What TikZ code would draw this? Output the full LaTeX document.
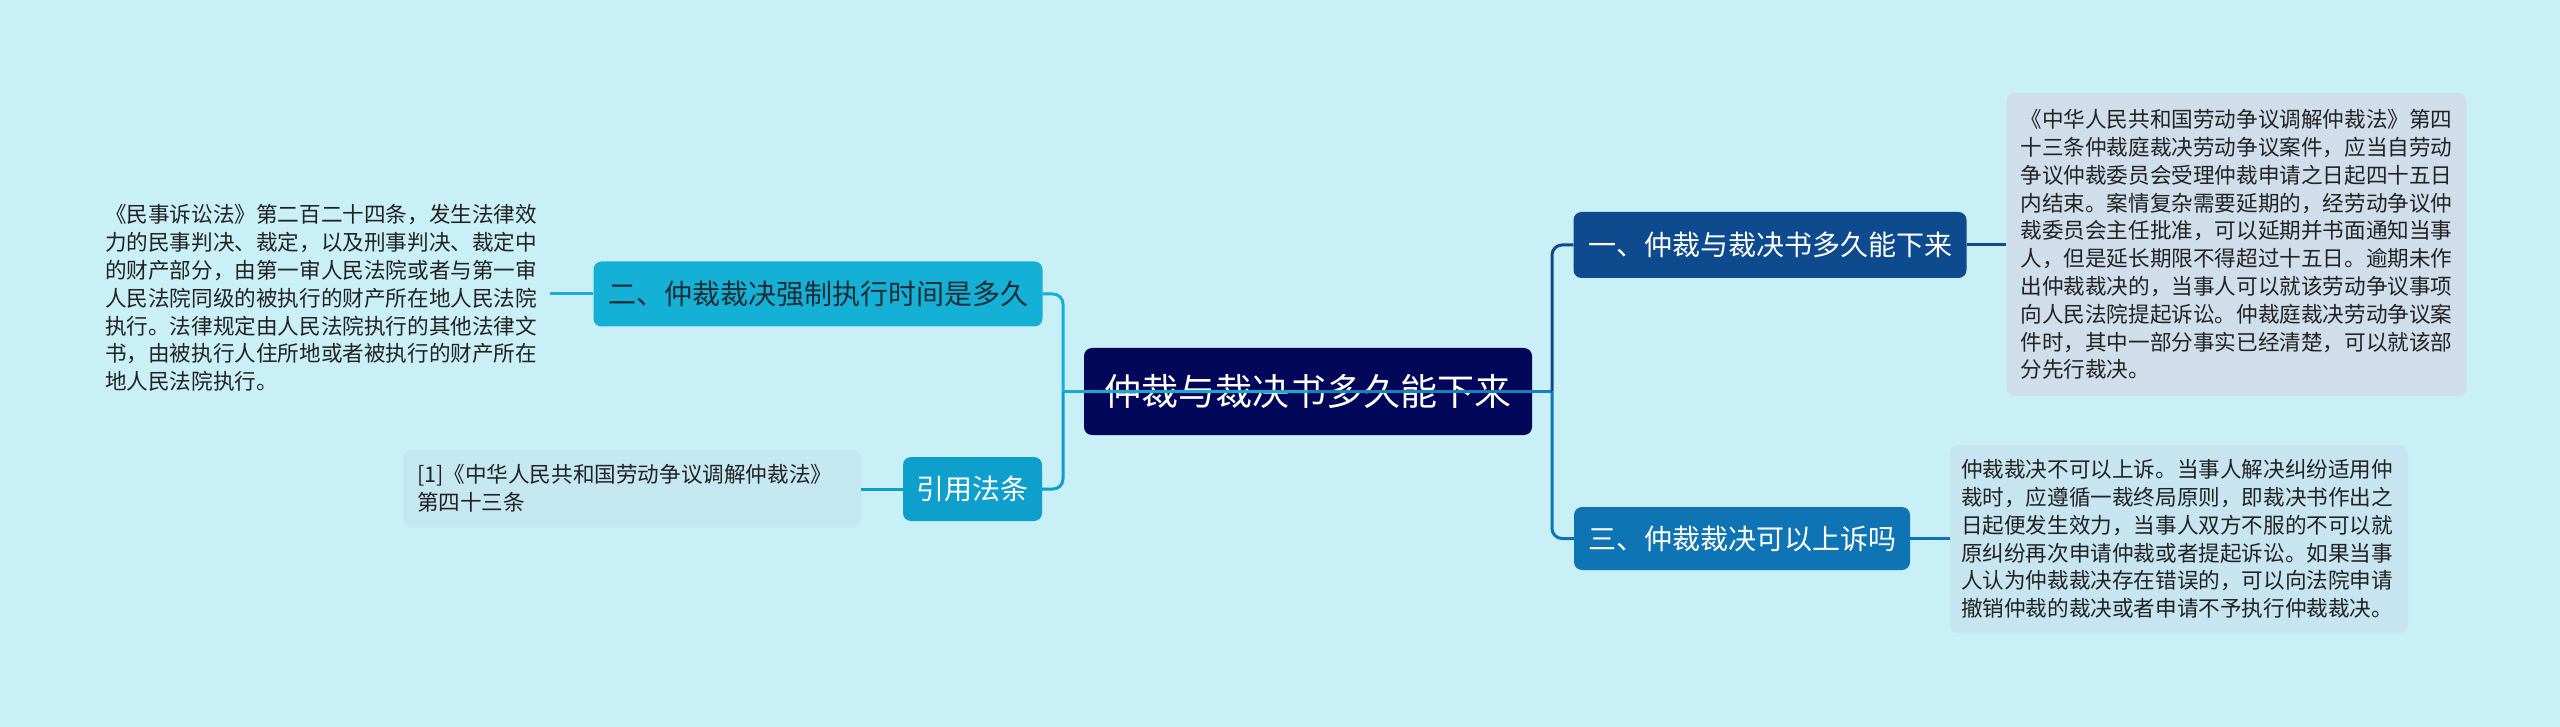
\documentclass[tikz,border=0pt]{standalone}
\usepackage{fontspec}
\setmainfont{Noto Sans CJK SC}
\definecolor{bg}{HTML}{C9EFF7}
\definecolor{cnavy}{HTML}{03075A}
\definecolor{cb1}{HTML}{0D4A8E}
\definecolor{cb3}{HTML}{0E74B3}
\definecolor{cb2}{HTML}{14B0D5}
\definecolor{cref}{HTML}{0F9FCC}
\definecolor{t1fill}{HTML}{D0DDEB}
\definecolor{t3fill}{HTML}{C6E5F1}
\definecolor{reffill}{HTML}{C4E7F2}
\definecolor{darktxt}{HTML}{1F2D36}
\definecolor{bodytxt}{HTML}{222222}
\definecolor{lcyan}{HTML}{19A8CF}
\definecolor{lmid}{HTML}{1580BA}
\begin{document}
\begin{tikzpicture}[x=1pt,y=-1pt,
  box/.style={rounded corners=8pt, inner sep=0pt, align=center},
  bigfont/.style={font=\fontsize{37pt}{44pt}\selectfont},
  midfont/.style={font=\fontsize{28pt}{34pt}\selectfont},
  txtbox/.style={rounded corners=8pt, inner xsep=14pt, inner ysep=0pt, align=left,
     text=bodytxt, font=\fontsize{21.6pt}{27.8pt}\selectfont},
  conn/.style={line width=3pt},
]
\fill[bg] (0,0) rectangle (2560,727);
\useasboundingbox (0,0) rectangle (2560,727);

% central
\node[box, bigfont, fill=cnavy, text=white, minimum width=448pt, minimum height=87pt] (c) at (1308,391.5) {仲裁与裁决书多久能下来};

% branches
\node[box, midfont, fill=cb1, text=white, minimum width=393pt, minimum height=66pt] (b1) at (1770,245) {一、仲裁与裁决书多久能下来};
\node[box, midfont, fill=cb3, text=white, minimum width=336pt, minimum height=63pt] (b3) at (1742,538.5) {三、仲裁裁决可以上诉吗};
\node[box, midfont, fill=cb2, text=darktxt, minimum width=449pt, minimum height=65pt] (b2) at (818,294) {二、仲裁裁决强制执行时间是多久};
\node[box, midfont, fill=cref, text=white, minimum width=139pt, minimum height=64pt] (r) at (972.5,489) {引用法条};

% text boxes
\node[txtbox, fill=t1fill, text width=432pt, minimum height=303pt] (t1) at (2236.5,244.5) {《中华人民共和国劳动争议调解仲裁法》第四\\十三条仲裁庭裁决劳动争议案件，应当自劳动\\争议仲裁委员会受理仲裁申请之日起四十五日\\内结束。案情复杂需要延期的，经劳动争议仲\\裁委员会主任批准，可以延期并书面通知当事\\人，但是延长期限不得超过十五日。逾期未作\\出仲裁裁决的，当事人可以就该劳动争议事项\\向人民法院提起诉讼。仲裁庭裁决劳动争议案\\件时，其中一部分事实已经清楚，可以就该部\\分先行裁决。};

\node[txtbox, fill=t3fill, text width=436pt, inner xsep=11pt, minimum height=188pt] (t3) at (2179,539) {仲裁裁决不可以上诉。当事人解决纠纷适用仲\\裁时，应遵循一裁终局原则，即裁决书作出之\\日起便发生效力，当事人双方不服的不可以就\\原纠纷再次申请仲裁或者提起诉讼。如果当事\\人认为仲裁裁决存在错误的，可以向法院申请\\撤销仲裁的裁决或者申请不予执行仲裁裁决。};

\node[txtbox, text width=437pt, inner xsep=8pt, minimum height=210pt] (lt) at (323.5,298) {《民事诉讼法》第二百二十四条，发生法律效\\力的民事判决、裁定，以及刑事判决、裁定中\\的财产部分，由第一审人民法院或者与第一审\\人民法院同级的被执行的财产所在地人民法院\\执行。法律规定由人民法院执行的其他法律文\\书，由被执行人住所地或者被执行的财产所在\\地人民法院执行。};

\node[txtbox, fill=reffill, text width=430pt, minimum height=77pt] (rt) at (632,488.5) {[1]《中华人民共和国劳动争议调解仲裁法》\\第四十三条};

% connectors
\coordinate (jr) at (1552,391.5);
\coordinate (jl) at (1063,391.5);
\draw[conn, lcyan] (c.center) -- (jl);
\draw[conn, lmid] (c.center) -- (jr);
\draw[conn, cb1, rounded corners=10pt] (jr) |- (b1.west);
\draw[conn, cb3, rounded corners=10pt] (jr) |- (b3.west);
\draw[conn, cb2, rounded corners=10pt] (jl) |- (b2.east);
\draw[conn, cref, rounded corners=10pt] (jl) |- (r.east);
\draw[conn, cb1] (b1.east) -- (b1.east -| t1.west);
\draw[conn, cb3] (b3.east) -- (b3.east -| t3.west);
\draw[conn, cb2] (b2.west) -- (b2.west -| lt.east);
\draw[conn, cref] (r.west) -- (r.west -| rt.east);
\end{tikzpicture}
\end{document}
